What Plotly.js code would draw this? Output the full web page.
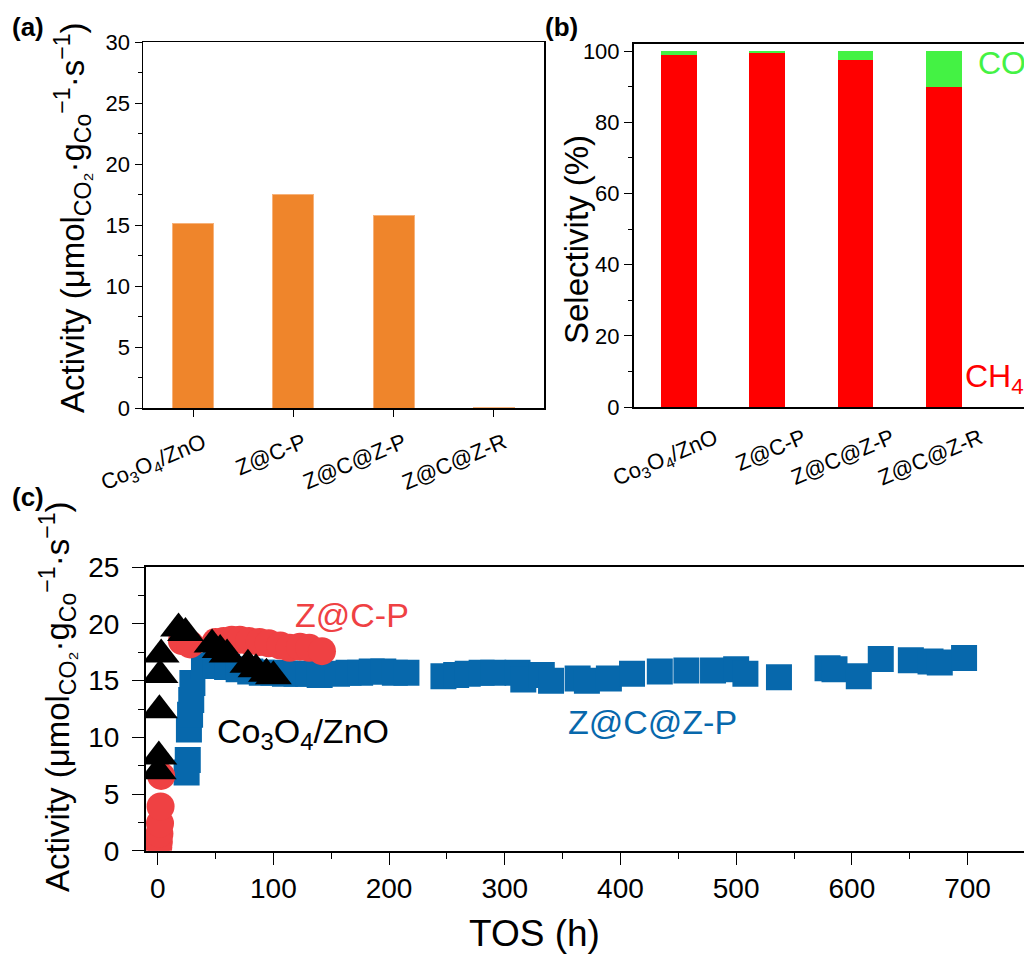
<!DOCTYPE html>
<html>
<head>
<meta charset="utf-8">
<script src="https://cdn.plot.ly/plotly-3.0.1.min.js"></script>
<style>html,body{margin:0;padding:0;overflow:hidden;background:#fff}#chart{width:1024px;height:954px}</style>
</head>
<body>
<div id="chart"></div>
<script>
// ---------- data ----------
const catLabels = ['Co<sub>3</sub>O<sub>4</sub>/ZnO', 'Z@C-P', 'Z@C@Z-P', 'Z@C@Z-R'];
const catPos = [0, 1, 2, 3];
const activity = [15.1, 17.5, 15.8, 0.08];
const selCH4 = [98.9, 99.6, 97.5, 90.0];
const selCO = [1.1, 0.4, 2.5, 10.0];

// panel (c): activity vs time on stream
const zczp_tos = [25, 26, 27, 28, 29, 30, 40, 50, 60, 70, 80, 90, 100, 110, 120, 130, 140, 155, 165, 175, 185, 195, 205, 215, 247, 258, 268, 280, 290, 311, 316, 332, 340, 363, 371, 390, 410, 434, 457, 480, 500, 508, 537, 579, 585, 606, 625, 651, 668, 676, 697];
const zczp_act = [6.9, 8.0, 10.7, 12.0, 13.3, 14.8, 16.3, 16.4, 16.2, 16.0, 15.8, 15.7, 15.7, 15.6, 15.6, 15.6, 15.5, 15.6, 15.7, 15.7, 15.8, 15.8, 15.7, 15.7, 15.4, 15.5, 15.6, 15.7, 15.7, 15.7, 15.1, 15.5, 15.0, 15.2, 15.0, 15.2, 15.6, 15.8, 15.9, 15.9, 16.0, 15.6, 15.3, 16.1, 16.0, 15.4, 16.9, 16.8, 16.7, 16.6, 17.0];

const zcp_tos = [0.5, 1, 1.5, 2, 2.5, 3, 21, 28, 50, 57, 64, 71, 79, 88, 96, 106, 114, 123, 131, 142];
const zcp_act = [0.3, 0.8, 1.5, 2.4, 3.9, 6.6, 18.5, 18.2, 18.4, 18.5, 18.6, 18.6, 18.5, 18.4, 18.3, 18.1, 17.9, 18.0, 17.9, 17.6];

const co_tos = [0.5, 1, 1.5, 2, 3, 18, 24, 47, 54, 60, 78, 85, 94, 100];
const co_act = [7.0, 8.3, 12.4, 15.5, 17.3, 19.6, 19.2, 18.2, 17.7, 17.3, 16.4, 16.0, 15.6, 15.4];

// ---------- helpers ----------
const W = 1024, H = 954;
const px = v => v / W;
const py = v => (H - v) / H;
const FONT = 'Liberation Sans, Arial, sans-serif';
const BLUE = '#0768ac', RED = '#ef4143', ORANGE = '#ef852b', CH4C = '#ff0000', COC = '#44f244';

const traces = [
  {type: 'bar', x: catPos, y: activity, xaxis: 'x', yaxis: 'y', width: 0.41,
   marker: {color: ORANGE, line: {color: '#f7b27a', width: 1}}, hoverinfo: 'y'},
  {type: 'bar', x: catPos, y: selCH4, xaxis: 'x2', yaxis: 'y2', width: 0.404,
   marker: {color: CH4C, line: {width: 0}}, name: 'CH4'},
  {type: 'bar', x: catPos, y: selCO, xaxis: 'x2', yaxis: 'y2', width: 0.404,
   marker: {color: COC, line: {width: 0}}, name: 'CO'},
  {type: 'scatter', mode: 'markers', x: zczp_tos, y: zczp_act, xaxis: 'x3', yaxis: 'y3',
   marker: {symbol: 'square', size: 26, color: BLUE, line: {width: 0}}, name: 'Z@C@Z-P'},
  {type: 'scatter', mode: 'markers', x: zcp_tos, y: zcp_act, xaxis: 'x3', yaxis: 'y3',
   marker: {symbol: 'circle', size: 28, color: RED, line: {width: 0}}, name: 'Z@C-P'},
  {type: 'scatter', mode: 'markers', x: co_tos, y: co_act, xaxis: 'x3', yaxis: 'y3',
   marker: {symbol: 'triangle-up', size: 32, color: '#000000', line: {width: 0}}, name: 'Co3O4/ZnO'}
];

const axCommon = {showgrid: false, zeroline: false, showline: true, linecolor: '#000', ticks: 'outside', tickcolor: '#000', color: '#000'};

const actTitle = 'Activity (μmol<sub>CO₂</sub>·g<sub>Co</sub><sup>−1</sup>·s<sup>−1</sup>)';

const layout = {
  width: W, height: H, margin: {l: 0, r: 0, t: 0, b: 0},
  paper_bgcolor: '#fff', plot_bgcolor: '#fff', showlegend: false, barmode: 'stack',
  font: {family: FONT, color: '#000'},
  xaxis: Object.assign({}, axCommon, {domain: [px(143), px(544)], anchor: 'y', range: [-0.5, 3.5],
    tickvals: catPos, ticktext: catLabels, tickangle: -23, ticklen: 7, linewidth: 1.5, mirror: true,
    ticklabelshift: 10, ticklabelstandoff: 5, tickfont: {size: 22, family: FONT}}),
  yaxis: Object.assign({}, axCommon, {domain: [py(408), py(42)], anchor: 'x', range: [0, 30], dtick: 5,
    ticklen: 7, linewidth: 1.5, mirror: true, tickfont: {size: 22, family: FONT},
    minor: {dtick: 2.5, ticklen: 4, ticks: 'outside', tickcolor: '#000'}}),
  xaxis2: Object.assign({}, axCommon, {domain: [px(634), 1], anchor: 'y2', range: [-0.51, 3.907],
    tickvals: catPos, ticktext: catLabels, tickangle: -23, ticks: '', linewidth: 2, mirror: true,
    ticklabelshift: 36, ticklabelstandoff: 8, tickfont: {size: 22, family: FONT}}),
  yaxis2: Object.assign({}, axCommon, {domain: [py(407), py(44)], anchor: 'x2', range: [0, 102], dtick: 20,
    ticklen: 8, linewidth: 2, tickfont: {size: 22, family: FONT},
    minor: {dtick: 10, ticklen: 4, ticks: 'outside', tickcolor: '#000'}}),
  xaxis3: Object.assign({}, axCommon, {domain: [px(146), 1], anchor: 'y3', range: [-10.1, 748.8], dtick: 100,
    ticklen: 12, linewidth: 2, mirror: true, tickfont: {size: 28, family: FONT},
    minor: {dtick: 50, ticklen: 6, ticks: 'outside', tickcolor: '#000'}}),
  yaxis3: Object.assign({}, axCommon, {domain: [py(850.7), py(567.3)], anchor: 'x3', range: [0, 25], dtick: 5,
    ticklen: 12, linewidth: 2, ticklabelstandoff: 7, tickfont: {size: 28, family: FONT},
    minor: {dtick: 2.5, ticklen: 6, ticks: 'outside', tickcolor: '#000'}}),
  annotations: [
    {text: '<b>(a)</b>', x: px(28), y: py(27), font: {size: 26}},
    {text: '<b>(b)</b>', x: px(561), y: py(27), font: {size: 26}},
    {text: '<b>(c)</b>', x: px(28), y: py(497), font: {size: 26}},
    {text: actTitle, x: px(72), y: py(218), textangle: -90, font: {size: 33}},
    {text: 'Selectivity (%)', x: px(576), y: py(240), textangle: -90, font: {size: 33}},
    {text: actTitle, x: px(57), y: py(697), textangle: -90, font: {size: 33}},
    {text: 'TOS (h)', x: px(534), y: py(933), font: {size: 37}},
    {text: 'CO', x: px(976), y: py(63), xanchor: 'left', font: {size: 32, color: COC}},
    {text: 'CH<sub>4</sub>', x: px(963), y: py(378), xanchor: 'left', font: {size: 32, color: CH4C}},
    {text: 'Z@C-P', x: px(352), y: py(615), font: {size: 34, color: RED}},
    {text: 'Co<sub>3</sub>O<sub>4</sub>/ZnO', x: px(303), y: py(733), font: {size: 34, color: '#000'}},
    {text: 'Z@C@Z-P', x: px(652), y: py(722), font: {size: 34, color: BLUE}}
  ].map(a => Object.assign({xref: 'paper', yref: 'paper', showarrow: false, xanchor: 'center', yanchor: 'middle'}, a))
};

Plotly.newPlot('chart', traces, layout, {staticPlot: true, displayModeBar: false});
</script>
</body>
</html>
